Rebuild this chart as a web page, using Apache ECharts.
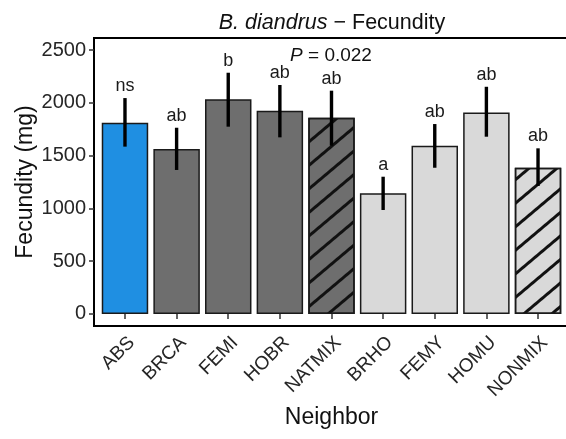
<!DOCTYPE html>
<html>
<head>
<meta charset="utf-8">
<script src="https://cdn.jsdelivr.net/npm/echarts@6/dist/echarts.min.js"></script>
<style>
  html, body { margin: 0; padding: 0; background: #fff; }
  #chart { width: 566px; height: 439px; }
</style>
</head>
<body>
<div id="chart"></div>
<script>
// Fecundity of B. diandrus grown with each neighbour treatment (mean ± SE)
const categories = ['ABS', 'BRCA', 'FEMI', 'HOBR', 'NATMIX', 'BRHO', 'FEMY', 'HOMU', 'NONMIX'];
const neighborType = ['absent', 'native', 'native', 'native', 'native mix',
                      'non-native', 'non-native', 'non-native', 'non-native mix'];
const fecundityMean  = [1812, 1563, 2033, 1925, 1859, 1143, 1594, 1909, 1385];
const fecundityLower = [1585, 1364, 1774, 1673, 1594,  985, 1385, 1679, 1212];
const fecundityUpper = [2045, 1764, 2285, 2169, 2115, 1300, 1799, 2152, 1569];
const groupLetters   = ['ns', 'ab', 'b', 'ab', 'ab', 'a', 'ab', 'ab', 'ab'];
const yTicks = [0, 500, 1000, 1500, 2000, 2500];
const pValue = '0.022';

const FONT = "'Liberation Sans', Arial, Helvetica, sans-serif";

// diagonal hatching used for the mixed-neighbour bars
const hatch = {
  symbol: 'rect',
  symbolSize: 1,
  dashArrayX: [1, 0],
  dashArrayY: [2.5, 15],
  rotation: -0.7,
  color: '#111'
};

const typeStyle = {
  'absent':         { color: '#1f8fe2', hatched: false },
  'native':         { color: '#6e6e6e', hatched: false },
  'native mix':     { color: '#6e6e6e', hatched: true },
  'non-native':     { color: '#d9d9d9', hatched: false },
  'non-native mix': { color: '#d9d9d9', hatched: true }
};

const xPos = categories.map((_, i) => i + 1);

const barData = categories.map((c, i) => {
  const st = typeStyle[neighborType[i]];
  const itemStyle = { color: st.color, borderColor: '#1a1a1a', borderWidth: 1.5 };
  if (st.hatched) itemStyle.decal = hatch;
  return { value: [xPos[i], fecundityMean[i]], itemStyle };
});

const errData = categories.map((c, i) => [xPos[i], fecundityLower[i], fecundityUpper[i], i]);

const chart = echarts.init(document.getElementById('chart'), null, { renderer: 'canvas' });

chart.setOption({
  animation: false,
  backgroundColor: '#fff',
  title: [
    {
      text: '{i|B. diandrus} − Fecundity',
      left: 327, top: 7, textAlign: 'center',
      textStyle: {
        fontFamily: FONT, fontSize: 21.5, fontWeight: 'normal', color: '#111',
        rich: { i: { fontFamily: FONT, fontSize: 21.5, fontStyle: 'italic', color: '#111' } }
      }
    },
    {
      text: '{i|P} = ' + pValue,
      left: 326, top: 41, textAlign: 'center',
      textStyle: {
        fontFamily: FONT, fontSize: 19, fontWeight: 'normal', color: '#111',
        rich: { i: { fontFamily: FONT, fontSize: 19, fontStyle: 'italic', color: '#111' } }
      }
    }
  ],
  grid: {
    left: 94, top: 38, right: -3, bottom: 113,
    outerBoundsMode: 'none',
    show: true, borderColor: '#000', borderWidth: 2, backgroundColor: 'transparent'
  },
  xAxis: {
    type: 'value', min: 0.4, max: 9.6,
    splitLine: { show: false },
    axisLine: { show: false },
    axisTick: { show: true, length: 5, customValues: xPos, lineStyle: { color: '#333', width: 1.5 } },
    axisLabel: {
      customValues: xPos,
      formatter: v => categories[Math.round(v) - 1],
      rotate: 45, margin: 7, verticalAlign: 'top',
      fontFamily: FONT, fontSize: 19, color: '#262626'
    },
    name: 'Neighbor', nameLocation: 'middle', nameGap: 80, nameMoveOverlap: false,
    nameTextStyle: { fontFamily: FONT, fontSize: 23, color: '#111' }
  },
  yAxis: {
    type: 'value', min: -114, max: 2614,
    splitLine: { show: false },
    axisLine: { show: false },
    axisTick: { show: true, length: 5, customValues: yTicks, lineStyle: { color: '#333', width: 1.5 } },
    axisLabel: {
      customValues: yTicks, margin: 8,
      formatter: v => String(v),
      fontFamily: FONT, fontSize: 20, color: '#262626'
    },
    name: 'Fecundity (mg)', nameLocation: 'middle', nameGap: 57, nameRotate: 90, nameMoveOverlap: false,
    nameTextStyle: { fontFamily: FONT, fontSize: 23, color: '#111' }
  },
  series: [
    {
      type: 'bar',
      data: barData,
      barWidth: '90%'
    },
    {
      type: 'custom',
      data: errData,
      z: 10,
      renderItem: (params, api) => {
        const x = api.value(0);
        const lo = api.coord([x, api.value(1)]);
        const hi = api.coord([x, api.value(2)]);
        const idx = api.value(3);
        return {
          type: 'group',
          children: [
            { type: 'line', shape: { x1: lo[0], y1: lo[1], x2: hi[0], y2: hi[1] },
              style: { stroke: '#000', lineWidth: 3.4 } },
            { type: 'text', x: hi[0], y: hi[1] - 3,
              style: { text: groupLetters[idx], align: 'center', verticalAlign: 'bottom',
                       fontFamily: FONT, fontSize: 18, fill: '#1a1a1a' } }
          ]
        };
      }
    }
  ]
});
</script>
</body>
</html>
